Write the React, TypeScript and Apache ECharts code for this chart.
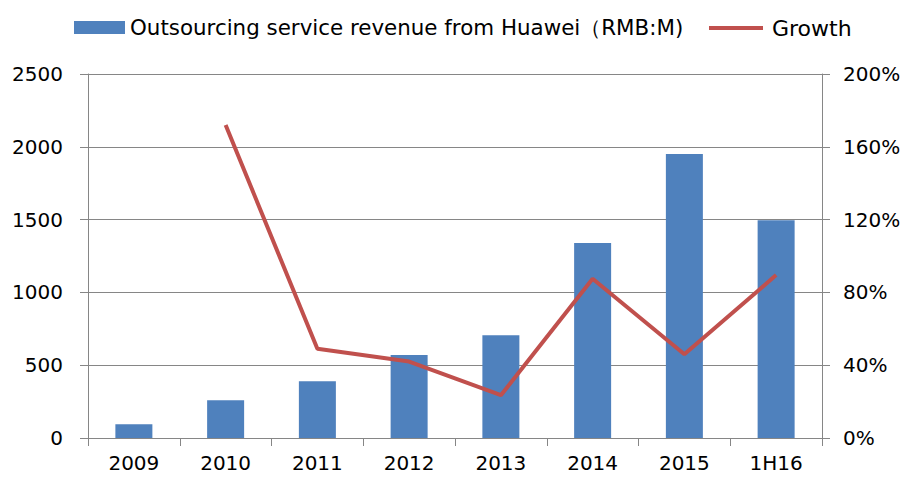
import React, { useEffect, useRef } from "react";
import * as echarts from "echarts";

const categories = ["2009", "2010", "2011", "2012", "2013", "2014", "2015", "1H16"];
const revenue = [95, 260, 390, 570, 705, 1340, 1950, 1495];
const growth = [null, 172, 49, 42, 23.5, 87.5, 46, 89.5];
const revenueName = "Outsourcing service revenue from Huawei（RMB:M)";
const growthName = "Growth";

export default function App() {
  const ref = useRef<HTMLDivElement>(null);
  useEffect(() => {
    if (!ref.current) return;
    const chart = echarts.init(ref.current, null, { renderer: "svg" });
    const font = "DejaVu Sans";
    const axisGray = "#868686";
    chart.setOption({
      animation: false,
      backgroundColor: "#ffffff",
      textStyle: { fontFamily: font },
      legend: [
        {
          left: 74,
          top: 17,
          padding: 0,
          itemWidth: 51,
          itemHeight: 13,
          textStyle: { fontFamily: font, fontSize: 21.4, color: "#000" },
          data: [{ name: revenueName, icon: "rect" }],
        },
        {
          left: 709,
          top: 17,
          padding: 0,
          itemWidth: 54,
          itemHeight: 4,
          textStyle: { fontFamily: font, fontSize: 22, color: "#000", padding: [0, 0, 0, 4] },
          data: [{ name: growthName, icon: "rect", itemStyle: { color: "#C0504D" } }],
        },
      ],
      grid: { left: 88, right: 84, top: 74, bottom: 40, containLabel: false },
      xAxis: {
        type: "category",
        data: categories,
        boundaryGap: true,
        axisLine: { lineStyle: { color: axisGray, width: 1 } },
        axisTick: { show: true, length: 8, alignWithLabel: false, lineStyle: { color: axisGray } },
        axisLabel: { fontFamily: font, fontSize: 20, color: "#000", margin: 15, interval: 0 },
      },
      yAxis: [
        {
          type: "value",
          min: 0,
          max: 2500,
          interval: 500,
          axisLine: { show: true, lineStyle: { color: axisGray, width: 1 } },
          axisTick: { show: true, length: 8, lineStyle: { color: axisGray } },
          splitLine: { show: true, lineStyle: { color: axisGray, width: 1 } },
          axisLabel: {
            fontFamily: font,
            fontSize: 20,
            color: "#000",
            margin: 25,
            formatter: (v: number) => String(v),
          },
        },
        {
          type: "value",
          min: 0,
          max: 200,
          interval: 40,
          position: "right",
          axisLine: { show: true, lineStyle: { color: axisGray, width: 1 } },
          axisTick: { show: true, length: 8, lineStyle: { color: axisGray } },
          splitLine: { show: false },
          axisLabel: { fontFamily: font, fontSize: 20, color: "#000", margin: 21, formatter: "{value}%" },
        },
      ],
      series: [
        {
          name: revenueName,
          type: "bar",
          data: revenue,
          barWidth: 37,
          itemStyle: { color: "#4F81BD" },
          yAxisIndex: 0,
        },
        {
          name: growthName,
          type: "line",
          data: growth,
          yAxisIndex: 1,
          symbol: "none",
          showSymbol: false,
          connectNulls: false,
          lineStyle: { color: "#C0504D", width: 4 },
          itemStyle: { color: "#C0504D" },
        },
      ],
    });
    return () => chart.dispose();
  }, []);
  return <div ref={ref} style={{ width: 906, height: 478, position: "absolute", left: 0, top: 0 }} />;
}
